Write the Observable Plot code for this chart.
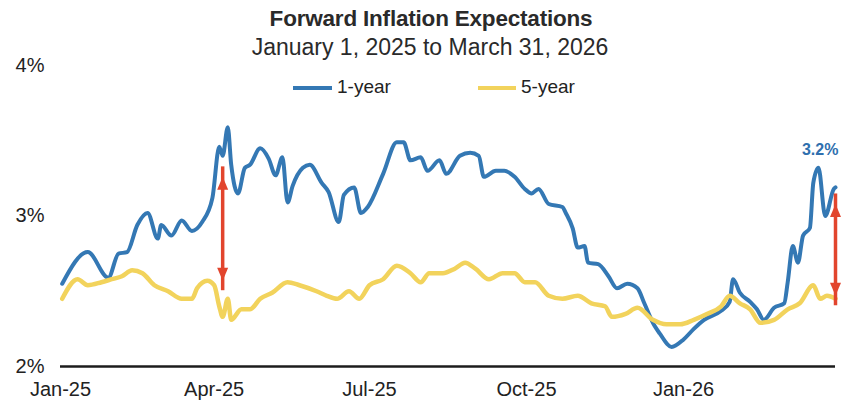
<!DOCTYPE html>
<html>
<head>
<meta charset="utf-8">
<script src="https://cdn.jsdelivr.net/npm/d3@7"></script>
<script src="https://cdn.jsdelivr.net/npm/@observablehq/plot@0.6"></script>
<style>
  html, body { margin: 0; padding: 0; background: #fff; }
  #wrap { position: relative; width: 841px; height: 407px; font-family: "Liberation Sans", Arial, sans-serif; color: #222; }
  #wrap svg { position: absolute; left: 0; top: 0; }
  .abs { position: absolute; white-space: nowrap; transform: translateX(-50%); line-height: 1; }
  #title { top: 8px; left: 431px; font-size: 22.5px; font-weight: bold; letter-spacing: -0.2px; color: #2a2a2a; }
  #subtitle { top: 36px; left: 430px; font-size: 23px; color: #2a2a2a; }
  .leg { position: absolute; top: 77px; font-size: 19px; line-height: 1; color: #222; }
  .sw { position: absolute; height: 4px; top: 86px; }
</style>
</head>
<body>
<div id="wrap">
  <div id="chart"></div>
  <div id="title" class="abs">Forward Inflation Expectations</div>
  <div id="subtitle" class="abs">January 1, 2025 to March 31, 2026</div>
  <div class="sw" style="left:293px;width:39px;background:#3478b4"></div>
  <div class="leg" style="left:337px">1-year</div>
  <div class="sw" style="left:478px;width:38px;background:#f2d35c"></div>
  <div class="leg" style="left:521px">5-year</div>
</div>
<script>
// ---- data ----
const seriesNames = ["1-year", "5-year"];
const yTicks = [2, 3, 4];
const xTickDates = ["2025-01-01", "2025-04-01", "2025-07-01", "2025-10-01", "2026-01-01"];
const xTickLabels = ["Jan-25", "Apr-25", "Jul-25", "Oct-25", "Jan-26"];

const oneYearDates = [
  "2025-01-02","2025-01-17","2025-01-29","2025-02-04","2025-02-09","2025-02-15","2025-02-21","2025-02-27",
  "2025-03-01","2025-03-07","2025-03-13","2025-03-19","2025-03-25","2025-03-31","2025-04-04","2025-04-06",
  "2025-04-09","2025-04-11","2025-04-15","2025-04-19","2025-04-22","2025-04-28","2025-05-03","2025-05-07",
  "2025-05-11","2025-05-14","2025-05-17","2025-05-23","2025-05-27","2025-06-03","2025-06-07","2025-06-13",
  "2025-06-16","2025-06-22","2025-06-26","2025-06-30","2025-07-09","2025-07-17","2025-07-21","2025-07-25",
  "2025-07-31","2025-08-04","2025-08-11","2025-08-15","2025-08-23","2025-08-29","2025-09-03","2025-09-06",
  "2025-09-13","2025-09-18","2025-09-24","2025-09-30","2025-10-04","2025-10-08","2025-10-14","2025-10-22",
  "2025-10-24","2025-10-28","2025-10-31","2025-11-04","2025-11-06","2025-11-12","2025-11-18","2025-11-23",
  "2025-11-29","2025-12-05","2025-12-09","2025-12-15","2025-12-18","2025-12-25","2026-01-01","2026-01-07",
  "2026-01-13","2026-01-23","2026-01-28","2026-01-30","2026-02-03","2026-02-09","2026-02-13","2026-02-17",
  "2026-02-23","2026-03-01","2026-03-03","2026-03-06","2026-03-09","2026-03-12","2026-03-16","2026-03-18",
  "2026-03-21","2026-03-25","2026-03-30","2026-03-31"
];
const oneYearValues = [
  2.55,2.76,2.59,2.75,2.76,2.94,3.02,2.85,
  2.94,2.87,2.97,2.90,2.96,3.12,3.46,3.40,
  3.59,3.34,3.15,3.32,3.34,3.45,3.38,3.27,
  3.39,3.09,3.20,3.32,3.34,3.22,3.16,2.96,
  3.14,3.19,3.02,3.06,3.28,3.49,3.49,3.37,
  3.39,3.30,3.37,3.28,3.40,3.42,3.40,3.26,
  3.30,3.30,3.26,3.18,3.15,3.18,3.08,3.06,
  3.02,2.92,2.79,2.80,2.69,2.68,2.60,2.52,
  2.55,2.52,2.42,2.27,2.22,2.13,2.18,2.25,
  2.31,2.37,2.43,2.58,2.49,2.43,2.38,2.31,
  2.39,2.42,2.56,2.80,2.69,2.87,2.92,3.22,
  3.32,3.00,3.18,3.19
];

const fiveYearDates = [
  "2025-01-02","2025-01-11","2025-01-17","2025-01-25","2025-01-31","2025-02-06","2025-02-12","2025-02-18",
  "2025-02-25","2025-03-05","2025-03-13","2025-03-19","2025-03-22","2025-03-28","2025-04-01","2025-04-04",
  "2025-04-06","2025-04-09","2025-04-11","2025-04-17","2025-04-22","2025-04-28","2025-05-05","2025-05-14",
  "2025-05-21","2025-05-31","2025-06-06","2025-06-12","2025-06-19","2025-06-25","2025-07-01","2025-07-09",
  "2025-07-17","2025-07-25","2025-07-31","2025-08-05","2025-08-13","2025-08-20","2025-08-26","2025-09-01",
  "2025-09-09","2025-09-17","2025-09-24","2025-09-30","2025-10-06","2025-10-14","2025-10-22","2025-10-31",
  "2025-11-08","2025-11-16","2025-11-20","2025-11-28","2025-12-05","2025-12-14","2025-12-22","2025-12-30",
  "2026-01-07","2026-01-15","2026-01-23","2026-01-28","2026-02-03","2026-02-09","2026-02-15","2026-02-23",
  "2026-03-03","2026-03-10","2026-03-18","2026-03-22","2026-03-26","2026-03-31"
];
const fiveYearValues = [
  2.45,2.58,2.54,2.56,2.58,2.60,2.64,2.62,
  2.54,2.50,2.45,2.45,2.52,2.57,2.54,2.40,
  2.33,2.45,2.31,2.38,2.38,2.45,2.49,2.56,
  2.54,2.50,2.47,2.45,2.50,2.45,2.54,2.58,
  2.67,2.62,2.56,2.62,2.62,2.65,2.69,2.65,
  2.58,2.62,2.62,2.56,2.56,2.47,2.45,2.47,
  2.42,2.40,2.33,2.35,2.39,2.31,2.28,2.28,
  2.31,2.35,2.40,2.47,2.42,2.38,2.29,2.31,
  2.38,2.42,2.54,2.45,2.47,2.45
];

// red double arrows: spread between 1-year and 5-year
const arrowDates = ["2025-04-06", "2026-03-31"];
const arrowTop = [3.26, 3.08];
const arrowBottom = [2.57, 2.47];

// annotation
const labelDates = ["2026-03-22"];
const labelValues = [3.44];
const labelTexts = ["3.2%"];

// ---- build tables ----
const d = s => new Date(s + "T00:00:00Z");
const oneYear = oneYearDates.map((s, i) => ({date: d(s), value: oneYearValues[i], series: seriesNames[0]}));
const fiveYear = fiveYearDates.map((s, i) => ({date: d(s), value: fiveYearValues[i], series: seriesNames[1]}));
const arrows = arrowDates.map((s, i) => ({date: d(s), top: arrowTop[i], bottom: arrowBottom[i]}));
const labels = labelDates.map((s, i) => ({date: d(s), value: labelValues[i], text: labelTexts[i]}));

const BLUE = "#3478b4", YELLOW = "#f2d35c", RED = "#e2452d";
const headSymbol = {draw(ctx) { ctx.moveTo(0, -7); ctx.lineTo(5.5, 6); ctx.lineTo(-5.5, 6); ctx.closePath(); }};

const chart = Plot.plot({
  width: 841,
  height: 407,
  marginLeft: 60,
  marginRight: 6,
  marginTop: 65,
  marginBottom: 41,
  style: {fontFamily: "'Liberation Sans', Arial, sans-serif", fontSize: "20px", color: "#222", background: "transparent", overflow: "visible"},
  x: {type: "utc", domain: [d("2025-01-01"), d("2026-03-31")]},
  y: {domain: [2, 4]},
  marks: [
    Plot.axisY({ticks: yTicks, tickSize: 0, tickPadding: 16, tickFormat: v => v + "%", fontSize: 20, label: null}),
    Plot.axisX({ticks: xTickDates.map(d), tickSize: 0, tickPadding: 15, fontSize: 20, label: null,
      tickFormat: (v, i) => xTickLabels[i]}),
    Plot.line(oneYear, {x: "date", y: "value", stroke: BLUE, strokeWidth: 4, strokeLinejoin: "round", curve: "monotone-x"}),
    Plot.line(fiveYear, {x: "date", y: "value", stroke: YELLOW, strokeWidth: 4.5, strokeLinejoin: "round", curve: "monotone-x"}),
    Plot.ruleY([2], {stroke: "#1c1c1c", strokeWidth: 2.5}),
    Plot.ruleX(arrows, {x: "date", y1: "bottom", y2: "top", stroke: RED, strokeWidth: 3.5, insetTop: 10, insetBottom: 10}),
    Plot.dot(arrows, {x: "date", y: "top", symbol: headSymbol, fill: RED, stroke: null, dy: 7}),
    Plot.dot(arrows, {x: "date", y: "bottom", symbol: headSymbol, fill: RED, stroke: null, rotate: 180, dy: -7}),
    Plot.text(labels, {x: "date", y: "value", text: "text", fill: "#2f6fae", fontWeight: "bold", fontSize: 16})
  ]
});
document.getElementById("chart").appendChild(chart);
</script>
</body>
</html>
